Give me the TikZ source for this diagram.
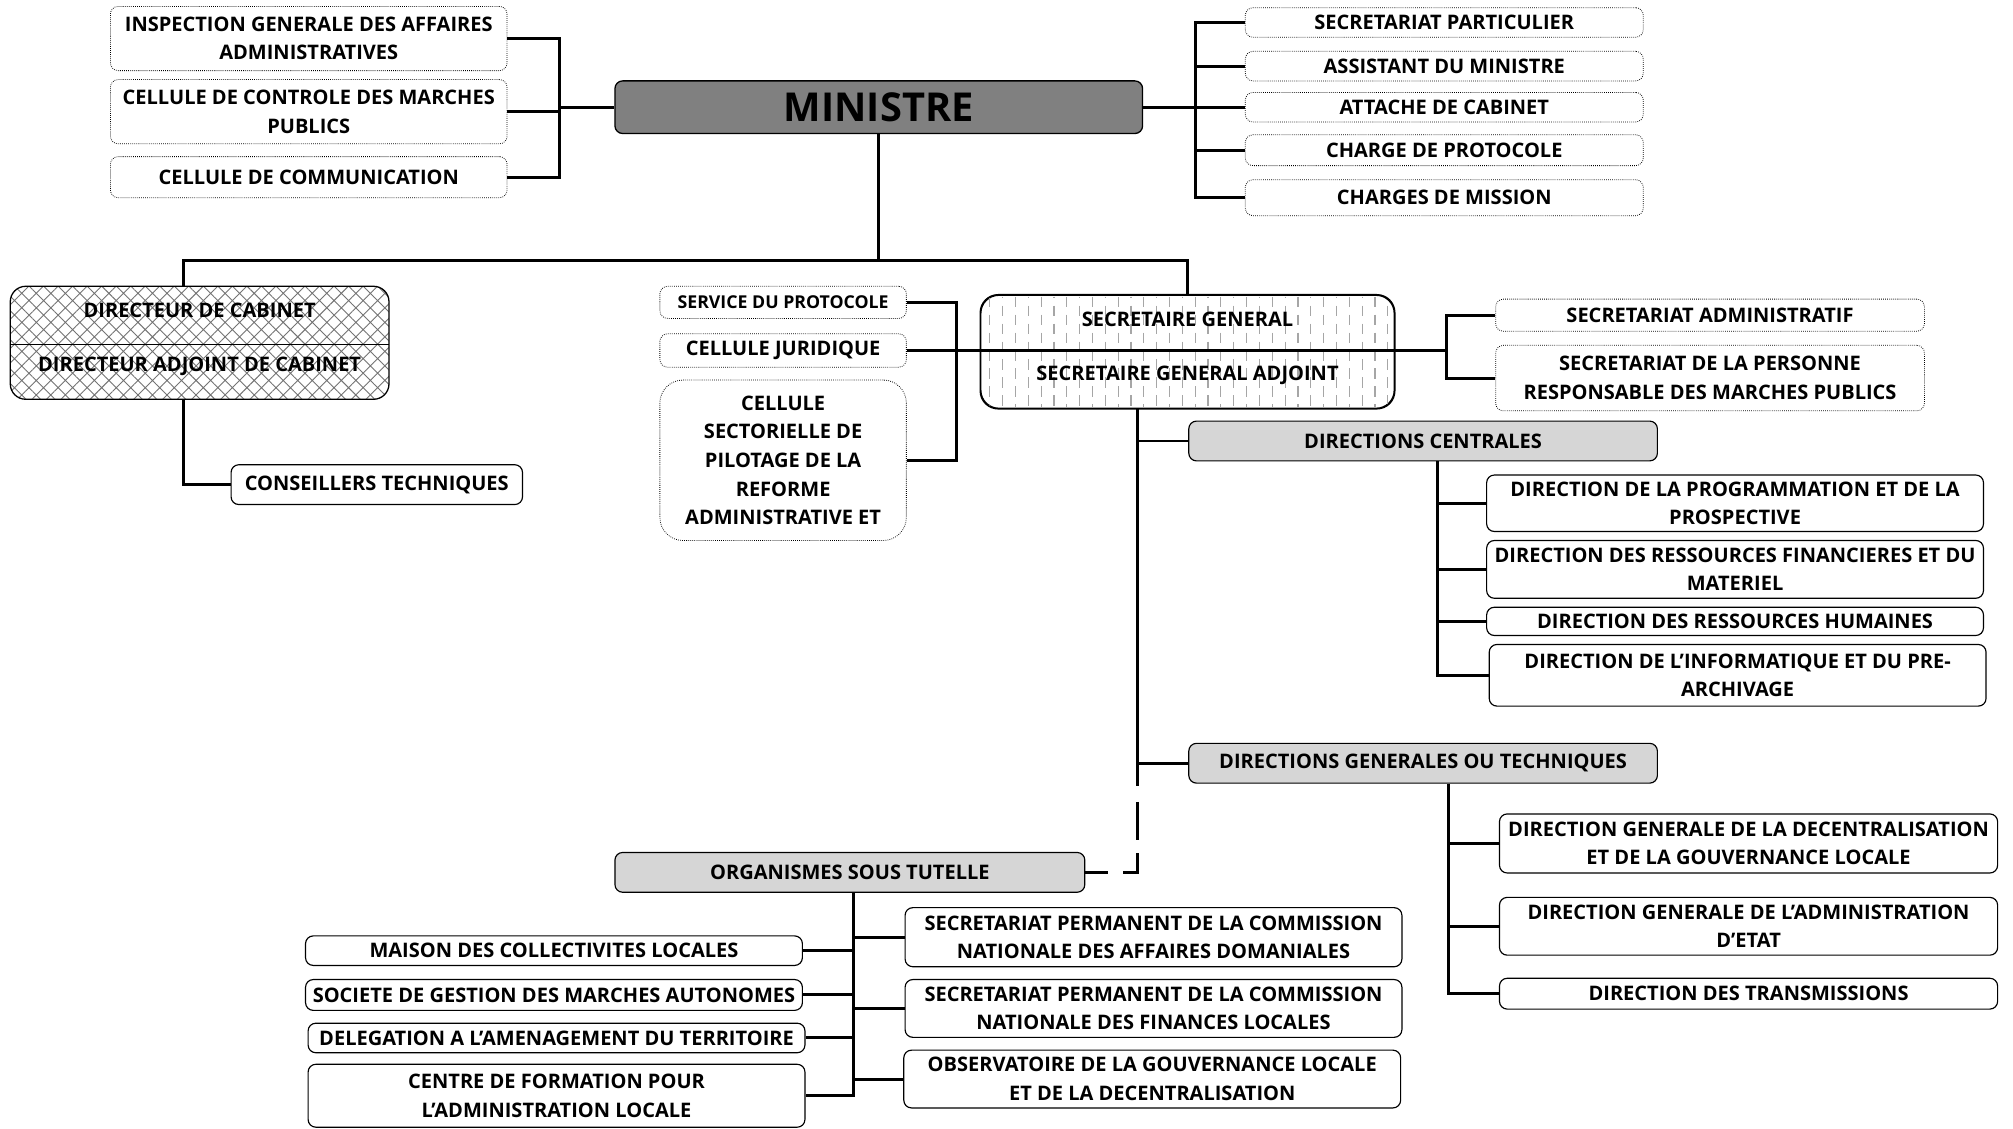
\documentclass[tikz,border=0pt]{standalone}
\usepackage{fontspec}
\setmainfont{Open Sans}
\usetikzlibrary{patterns.meta}
\newcommand\bx[7]{%
  \pgfmathsetmacro\bxw{#4-#2}%
  \pgfmathsetmacro\bxh{#5-#3}%
  \node[#6, minimum width=\bxw pt, minimum height=\bxh pt] (#1) at ({(#2+#4)/2},{(#3+#5)/2}) {#7};}
\begin{document}
\begin{tikzpicture}[x=1pt,y=-1pt,
  every node/.style={inner sep=0pt, align=center, font=\bfseries\fontsize{15.6}{22.3}\selectfont},
  dotbox/.style={draw, densely dotted, line width=0.6pt, rounded corners=6pt, fill=white},
  solbox/.style={draw, line width=0.9pt, rounded corners=6pt, fill=white},
  graybox/.style={draw, line width=0.9pt, rounded corners=6pt, fill=black!16},
  conn/.style={line width=2.3pt},
  lbl/.style={inner sep=0pt}]
\fill[white] (0,0) rectangle (1568,879);
\useasboundingbox (0,0) rectangle (1568,879);

% bus coordinates
\coordinate (bL) at (436,0);
\coordinate (bR) at (931,0);
\coordinate (hy) at (0,203);
\coordinate (dcx) at (143,0);
\coordinate (bJ) at (745,0);
\coordinate (bSG) at (1127,0);
\coordinate (sgx) at (886,0);
\coordinate (dcenx) at (1120,0);
\coordinate (dgtx) at (1128,0);
\coordinate (ox) at (665,0);

% ministre
\bx{min}{479}{63}{890}{104}{draw, line width=1pt, rounded corners=6pt, fill=black!50, font=\bfseries\fontsize{31}{36}\selectfont}{MINISTRE}

% top left
\bx{igaa}{86}{5}{395}{55}{dotbox}{INSPECTION GENERALE DES AFFAIRES\\ADMINISTRATIVES}
\bx{ccmp}{86}{62}{395}{112}{dotbox}{CELLULE DE CONTROLE DES MARCHES\\PUBLICS}
\bx{cc}{86}{122}{395}{154}{dotbox}{CELLULE DE COMMUNICATION}
\draw[conn] (igaa.east) -- (igaa.east -| bL) -- (cc.east -| bL) -- (cc.east);
\draw[conn] (ccmp.east) -- (ccmp.east -| bL);
\draw[conn] (bL |- min.west) -- (min.west);

% top right
\bx{sp}{970}{6}{1280}{29}{dotbox}{SECRETARIAT PARTICULIER}
\bx{adm}{970}{40}{1280}{63}{dotbox}{ASSISTANT DU MINISTRE}
\bx{adc}{970}{72}{1280}{95}{dotbox}{ATTACHE DE CABINET}
\bx{cdp}{970}{105}{1280}{129}{dotbox}{CHARGE DE PROTOCOLE}
\bx{cdm}{970}{140}{1280}{168}{dotbox}{CHARGES DE MISSION}
\draw[conn] (sp.west) -- (sp.west -| bR) -- (cdm.west -| bR) -- (cdm.west);
\draw[conn] (adm.west) -- (adm.west -| bR);
\draw[conn] (adc.west) -- (adc.west -| bR);
\draw[conn] (cdp.west) -- (cdp.west -| bR);
\draw[conn] (min.east) -- (min.east -| bR);

% directeur de cabinet
\node[draw, line width=1pt, rounded corners=12pt, minimum width=295pt, minimum height=88pt,
  pattern={Hatch[angle=45,distance=8pt,line width=0.7pt]}, pattern color=black!55] (dc) at (155.5,267) {};
\draw[line width=0.8pt] (dc.west |- 0,268) -- (dc.east |- 0,268);
\node[lbl] (dct1) at (155.5,242) {DIRECTEUR DE CABINET};
\node[lbl] (dct2) at (155.5,285) {DIRECTEUR ADJOINT DE CABINET};
\bx{ct}{180}{362}{407}{393}{solbox}{CONSEILLERS TECHNIQUES}
\draw[conn] (dcx |- dc.south) -- (dcx |- ct.west) -- (ct.west);

% secretaire general
\node[draw, line width=1pt, rounded corners=14pt, fill=white, minimum width=322pt, minimum height=88pt] (sg) at (925,274) {};
\begin{scope}
  \clip[rounded corners=14pt] (764,230) rectangle (1086,318);
  \foreach \xx in {771,791,...,1085}
    \draw[black!35, line width=0.9pt, dash pattern=on 8pt off 6pt] (\xx,231) -- (\xx,318);
  \foreach \xx in {781,801,...,1085}
    \draw[black!35, line width=0.9pt, dash pattern=on 8pt off 6pt, dash phase=7pt] (\xx,231) -- (\xx,318);
\end{scope}
\draw[line width=1pt, rounded corners=14pt] (sg.north west) rectangle (sg.south east);

% ministre stem and horizontal
\draw[conn] (min.south) -- (min.south |- hy);
\draw[conn] (dcx |- dc.north) -- (dcx |- hy) -- (sg.north |- hy) -- (sg.north);

% left of SG
\bx{sdp}{514}{223}{706}{248}{dotbox, font=\bfseries\fontsize{13.8}{16}\selectfont}{SERVICE DU PROTOCOLE}
\bx{cj}{514}{260}{706}{286}{dotbox}{CELLULE JURIDIQUE}
\bx{cspra}{514}{296}{706}{421}{dotbox, rounded corners=18pt}{CELLULE\\SECTORIELLE DE\\PILOTAGE DE LA\\REFORME\\ADMINISTRATIVE ET}
\draw[conn] (sdp.east) -- (sdp.east -| bJ) -- (cspra.east -| bJ) -- (cspra.east);

% right of SG
\bx{sa}{1165}{233}{1499}{258}{dotbox}{SECRETARIAT ADMINISTRATIF}
\bx{sprmp}{1165}{269}{1499}{320}{dotbox}{SECRETARIAT DE LA PERSONNE\\RESPONSABLE DES MARCHES PUBLICS}
\draw[conn] (sa.west) -- (sa.west -| bSG) -- (sprmp.west -| bSG) -- (sprmp.west);
\draw[conn] (cj.east) -- (cj.east -| bSG);
\node[lbl] (sgt1) at (925,249) {SECRETAIRE GENERAL};
\node[lbl] (sgt2) at (925,292) {SECRETAIRE GENERAL ADJOINT};

% directions centrales
\bx{dcen}{926}{328}{1291}{359}{graybox}{DIRECTIONS CENTRALES}
\bx{dpp}{1158}{370}{1545}{414}{solbox}{DIRECTION DE LA PROGRAMMATION ET DE LA\\PROSPECTIVE}
\bx{drfm}{1158}{421}{1545}{466}{solbox}{DIRECTION DES RESSOURCES FINANCIERES ET DU\\MATERIEL}
\bx{drh}{1158}{473}{1545}{495}{solbox}{DIRECTION DES RESSOURCES HUMAINES}
\bx{dipa}{1160}{502}{1547}{550}{solbox}{DIRECTION DE L’INFORMATIQUE ET DU PRE-\\ARCHIVAGE}
\draw[conn] (dcenx |- dcen.south) -- (dcenx |- dipa.west) -- (dipa.west);
\draw[conn] (dcenx |- dpp.west) -- (dpp.west);
\draw[conn] (dcenx |- drfm.west) -- (drfm.west);
\draw[conn] (dcenx |- drh.west) -- (drh.west);

% directions generales
\bx{dgt}{926}{579}{1291}{610}{graybox}{DIRECTIONS GENERALES OU TECHNIQUES}
\bx{dgdgl}{1168}{634}{1556}{680}{solbox}{DIRECTION GENERALE DE LA DECENTRALISATION\\ET DE LA GOUVERNANCE LOCALE}
\bx{dgae}{1168}{699}{1556}{744}{solbox}{DIRECTION GENERALE DE L’ADMINISTRATION\\D’ETAT}
\bx{dt}{1168}{762}{1556}{786}{solbox}{DIRECTION DES TRANSMISSIONS}
\draw[conn] (dgtx |- dgt.south) -- (dgtx |- dt.west) -- (dt.west);
\draw[conn] (dgtx |- dgdgl.west) -- (dgdgl.west);
\draw[conn] (dgtx |- dgae.west) -- (dgae.west);

% SG stem
\draw[conn] (sgx |- sg.south) -- (sgx |- dgt.west) -- (dgt.west);
\draw[conn] (sgx |- dcen.west) -- (dcen.west);

% organismes sous tutelle
\bx{org}{479}{664}{845}{695}{graybox}{ORGANISMES SOUS TUTELLE}
\draw[conn, dash pattern=on 18pt off 12pt on 30pt off 10pt on 26pt off 12pt on 20pt off 100pt] (sgx |- dgt.west) -- (sgx |- org.east) -- (org.east);

\bx{mcl}{238}{729}{625}{752}{solbox}{MAISON DES COLLECTIVITES LOCALES}
\bx{sgma}{238}{763}{625}{787}{solbox}{SOCIETE DE GESTION DES MARCHES AUTONOMES}
\bx{dat}{240}{797}{627}{820}{solbox}{DELEGATION A L’AMENAGEMENT DU TERRITOIRE}
\bx{cfal}{240}{829}{627}{878}{solbox}{CENTRE DE FORMATION POUR\\L’ADMINISTRATION LOCALE}
\bx{spcnad}{705}{707}{1092}{753}{solbox}{SECRETARIAT PERMANENT DE LA COMMISSION\\NATIONALE DES AFFAIRES DOMANIALES}
\bx{spcnfl}{705}{763}{1092}{808}{solbox}{SECRETARIAT PERMANENT DE LA COMMISSION\\NATIONALE DES FINANCES LOCALES}
\bx{ogld}{704}{818}{1091}{863}{solbox}{OBSERVATOIRE DE LA GOUVERNANCE LOCALE\\ET DE LA DECENTRALISATION}
\draw[conn] (ox |- org.south) -- (ox |- cfal.east) -- (cfal.east);
\draw[conn] (mcl.east) -- (mcl.east -| ox);
\draw[conn] (sgma.east) -- (sgma.east -| ox);
\draw[conn] (dat.east) -- (dat.east -| ox);
\draw[conn] (ox |- spcnad.west) -- (spcnad.west);
\draw[conn] (ox |- spcnfl.west) -- (spcnfl.west);
\draw[conn] (ox |- ogld.west) -- (ogld.west);
\end{tikzpicture}
\end{document}
